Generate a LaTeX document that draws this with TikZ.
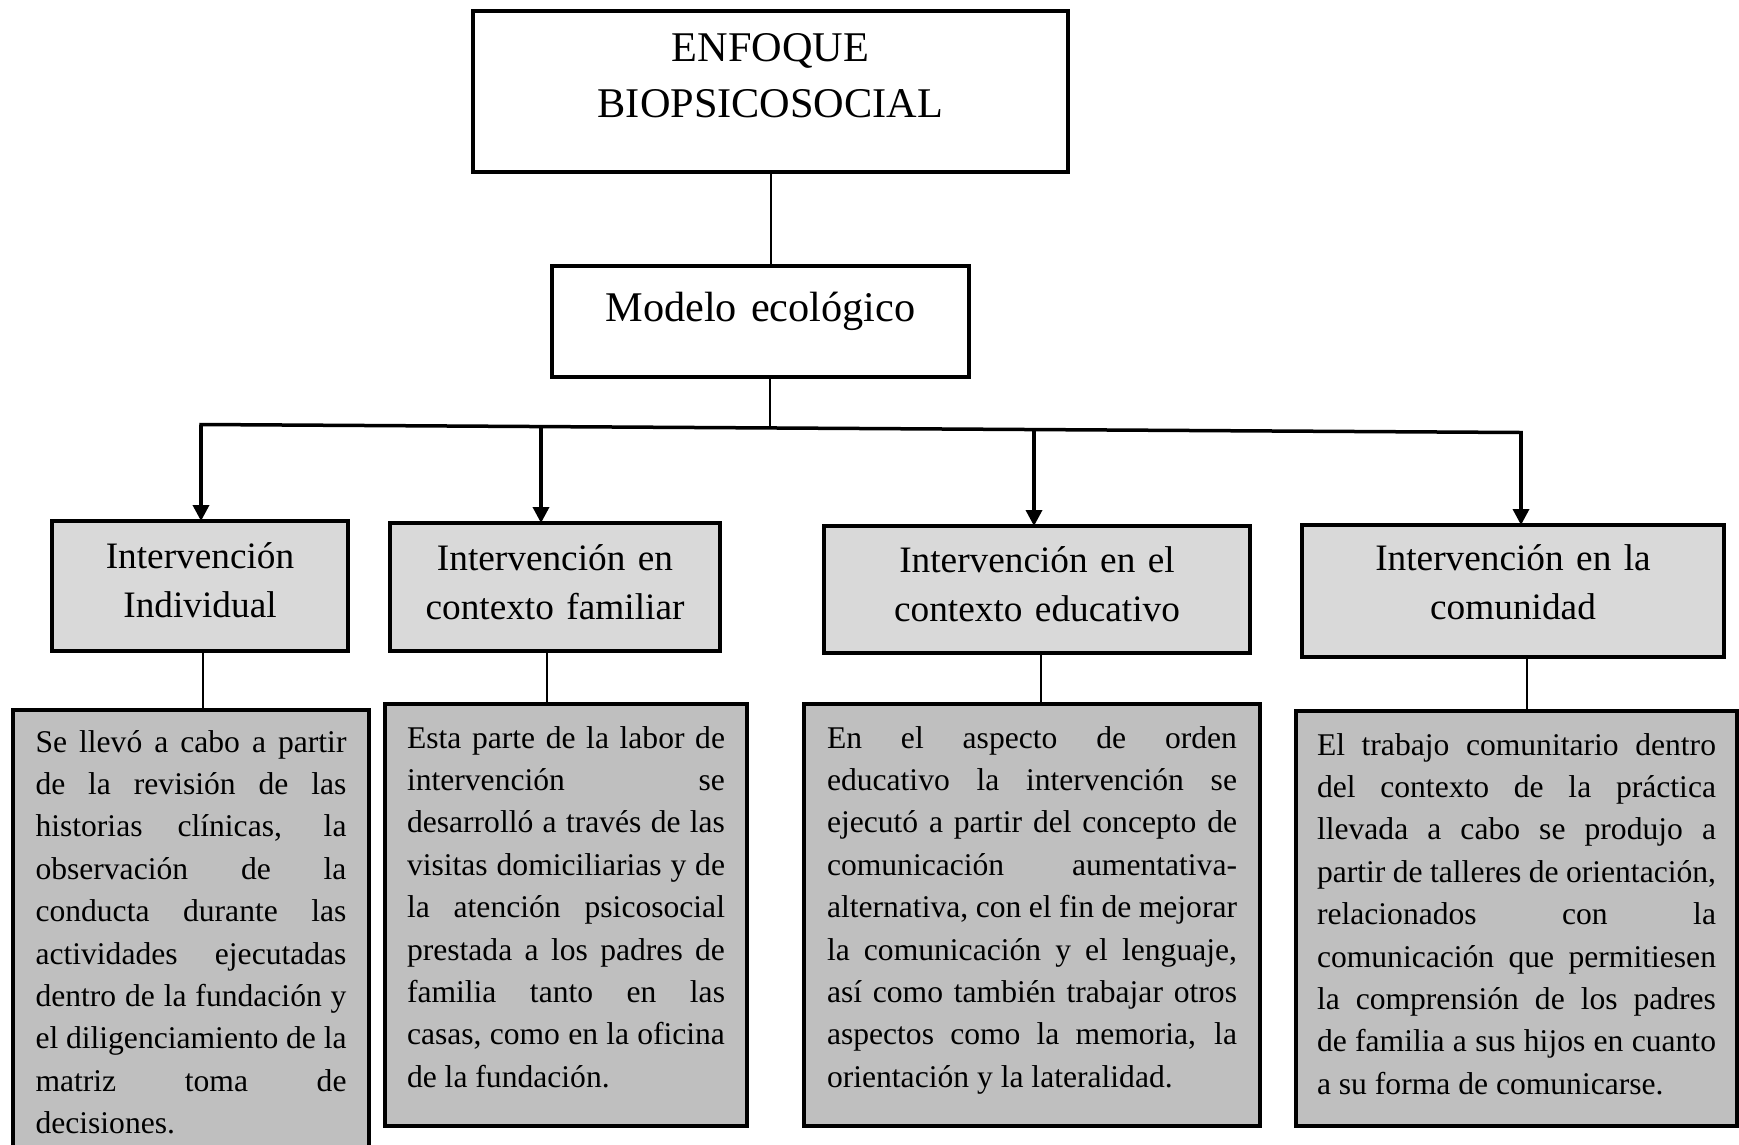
\documentclass[tikz,border=0pt]{standalone}
\usepackage{fontspec}
\setmainfont{Liberation Serif}
\usetikzlibrary{arrows.meta}

\definecolor{areagray}{HTML}{D9D9D9}
\definecolor{notegray}{HTML}{BFBFBF}

\tikzstyle{mainbox}=[draw,line width=4pt,outer sep=0pt,anchor=north,align=center,inner xsep=10pt,inner ysep=10pt,font=\fontsize{42.3}{56}\selectfont]
\tikzstyle{areabox}=[mainbox,fill=areagray,font=\fontsize{37.3}{49}\selectfont]
\tikzstyle{notebox}=[draw,line width=4pt,outer sep=0pt,anchor=north,fill=notegray,align=justify,inner ysep=10pt,font=\fontsize{31.6}{42.4}\selectfont]
\tikzstyle{edge} = [draw,line width=2pt,-]
\tikzstyle{branch} = [draw,line width=3.5pt,-{Triangle[width=16pt,length=16pt]}]
\newcommand{\pxunit}{1pt}
\tolerance=10000 \hbadness=10000 \hfuzz=30pt

\begin{document}
\begin{tikzpicture}[x=\pxunit, y=-\pxunit]
    \useasboundingbox (0,0) rectangle (1739,1144);
    % First the two boxes on top
    \node[mainbox,text width=575pt,text height=40pt,text depth=101pt] (enfoque) at (770.5,11) {ENFOQUE\\BIOPSICOSOCIAL};
    \node[mainbox,text width=397pt,text height=45pt,text depth=46pt] (modelo) at (760.5,266) {Modelo ecológico};
    % Then the four areas
    \node[areabox,text width=276pt,text height=37pt,text depth=73pt] (bI) at (200,521) {Intervención\\Individual};
    \node[areabox,text width=310pt,text height=37pt,text depth=71pt] (bII) at (555,523) {Intervención en\\contexto familiar};
    \node[areabox,text width=406pt,text height=36pt,text depth=71pt] (bIII) at (1037,526) {Intervención en el\\contexto educativo};
    \node[areabox,text width=402pt,text height=35pt,text depth=77pt] (bIV) at (1513,525) {Intervención en la\\comunidad};
    % and what was done in each one
    \node[notebox,inner xsep=22.5pt,text width=311pt,text height=32pt,text depth=428pt] (dI) at (191,710)
        {Se llevó a cabo a partir\linebreak de la revisión de las\linebreak historias clínicas, la\linebreak observación de la\linebreak conducta durante las\linebreak actividades ejecutadas\linebreak dentro de la fundación y\linebreak el diligenciamiento de la\linebreak matriz toma de\linebreak decisiones.};
    \node[notebox,inner xsep=22pt,text width=318pt,text height=34pt,text depth=368pt] (dII) at (566,704)
        {Esta parte de la labor de\linebreak intervención se\linebreak desarrolló a través de las\linebreak visitas domiciliarias y de\linebreak la atención psicosocial\linebreak prestada a los padres de\linebreak familia tanto en las\linebreak casas, como en la oficina\linebreak de la fundación.};
    \node[notebox,inner xsep=23pt,text width=410pt,text height=34pt,text depth=368pt] (dIII) at (1032,704)
        {En el aspecto de orden\linebreak educativo la intervención se\linebreak ejecutó a partir del concepto de\linebreak comunicación aumentativa-\linebreak alternativa, con el fin de mejorar\linebreak la comunicación y el lenguaje,\linebreak así como también trabajar otros\linebreak aspectos como la memoria, la\linebreak orientación y la lateralidad.};
    \node[notebox,inner xsep=21pt,text width=399pt,text height=34pt,text depth=361pt] (dIV) at (1516.5,711)
        {El trabajo comunitario dentro\linebreak del contexto de la práctica\linebreak llevada a cabo se produjo a\linebreak partir de talleres de orientación,\linebreak relacionados con la\linebreak comunicación que permitiesen\linebreak la comprensión de los padres\linebreak de familia a sus hijos en cuanto\linebreak a su forma de comunicarse.};
    % Connect the top boxes
    \coordinate (hub) at (770,428);
    \path[edge] (enfoque.south) -- (enfoque.south |- modelo.north);
    \path[edge] (hub |- modelo.south) -- (hub);
    % The bar and its arrows
    \coordinate (aI) at (201,424.5);
    \coordinate (aII) at (541,426.5);
    \coordinate (aIII) at (1034,429.5);
    \coordinate (aIV) at (1521,432.5);
    \draw[line width=3.5pt,line cap=rect] (aI) -- (aIV);
    \foreach \source/\dest in {aI/bI, aII/bII, aIII/bIII, aIV/bIV}
        \path[branch] (\source) -- (\source |- \dest.north);
    % Areas down to their texts
    \foreach \source/\dest/\dx in {bI/dI/3, bII/dII/-8, bIII/dIII/4, bIV/dIV/14} {
        \coordinate (c\source) at ([xshift=\dx pt]\source.south);
        \path[edge] (c\source) -- (c\source |- \dest.north);
    }
\end{tikzpicture}
\end{document}
